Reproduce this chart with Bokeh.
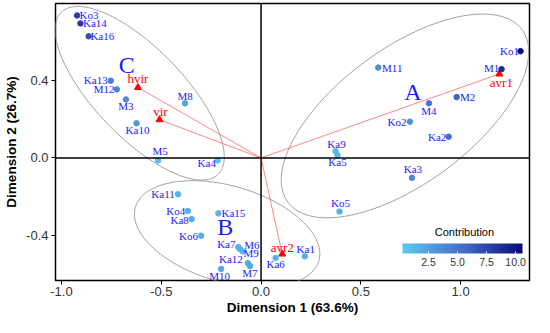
import numpy as np
from bokeh.plotting import figure
from bokeh.models import (Span, LinearColorMapper, ColorBar, FixedTicker, Label,
                          NumeralTickFormatter, Range1d, ColumnDataSource)
from bokeh.core.properties import value
from bokeh.embed import file_html
from bokeh.resources import INLINE

# ---------------- data ----------------
names = ["Ko1", "M1", "M11", "M2", "M4", "Ko2", "Ka2", "Ka9", "Ka5", "Ka3", "Ko5",
         "Ko3", "Ka14", "Ka16", "Ka13", "M12", "M3", "M8", "Ka10", "M5", "Ka4",
         "Ka11", "Ko4", "Ka8", "Ka15", "Ko6", "Ka7", "M6", "M9", "Ka12", "M7", "M10",
         "Ka6", "Ka1"]
dim1 = [1.300, 1.205, 0.587, 0.980, 0.841, 0.746, 0.940, 0.373, 0.383, 0.756, 0.393,
        -0.922, -0.905, -0.864, -0.753, -0.723, -0.677, -0.381, -0.624, -0.516, -0.217,
        -0.416, -0.367, -0.348, -0.214, -0.300, -0.114, -0.106, -0.092, -0.066, -0.056, -0.200,
        0.073, 0.219]
dim2 = [0.553, 0.460, 0.468, 0.315, 0.283, 0.188, 0.110, 0.035, 0.015, -0.103, -0.278,
        0.738, 0.697, 0.630, 0.400, 0.355, 0.303, 0.283, 0.180, -0.013, -0.013,
        -0.188, -0.275, -0.317, -0.287, -0.403, -0.462, -0.472, -0.484, -0.545, -0.560, -0.575,
        -0.518, -0.510]
contrib = [10.5, 9.0, 3.5, 6.0, 5.0, 3.5, 5.5, 1.2, 1.2, 4.0, 1.5,
           8.0, 8.0, 7.0, 4.5, 4.3, 3.8, 2.2, 3.0, 1.0, 0.4,
           1.5, 1.6, 1.7, 1.3, 1.8, 1.5, 1.5, 1.6, 1.9, 2.0, 2.1,
           1.4, 1.6]

var_names = ["hvir", "vir", "avr1", "avr2"]
var_dim1 = [-0.617, -0.509, 1.194, 0.106]
var_dim2 = [0.365, 0.198, 0.435, -0.498]

group_names = ["A", "B", "C"]
group_dim1 = [0.761, -0.180, -0.673]
group_dim2 = [0.343, -0.360, 0.480]

# confidence ellipses: centre, semi-axes, angle (deg)
ell_cx = [0.721, -0.170, -0.608]
ell_cy = [0.2175, -0.394, 0.335]
ell_a = [0.7375, 0.480, 0.575]
ell_b = [0.345, 0.248, 0.226]
ell_angle = [37.8, -17.2, -47.35]

x_ticks = [-1.0, -0.5, 0.0, 0.5, 1.0]
y_ticks = [-0.4, 0.0, 0.4]
cbar_ticks = [2.5, 5.0, 7.5, 10.0]
contrib_low, contrib_high = 0.25, 10.6

# ---------------- label placement (screen px offsets, +dy = down) ----------------
lab_dx = [-11, -10, 14, 11, 0, -13, -11.5, 1, 0, 1, 1,
          12, 14.5, 13.7, -15, -12.7, 0, 0, 1, 2, -11,
          -15, -12, -12, 15, -12.7, -12, 12, 8.5, -17, 0, -1.5,
          0, 1]
lab_dy = [-0.6, -0.7, 0, 0, 7.5, 0, 0, -7, 7.3, -9, -8.7,
          0, 0, 0, -1, 0, 7, -7, 6.5, -9, 2.5,
          0, 0, 1, 0, 0, -3, -4, 1.3, -3.7, 7.3, 7,
          6.5, -7.7]
var_dx = [0, 1, 2, 0]
var_dy = [-8.5, -8.3, 9, -7]

# ---------------- colours ----------------
anch = np.array([[91, 200, 240], [70, 110, 200], [10, 10, 125]], dtype=float)
tt = np.linspace(0, 1, 256)
palette = []
for t in tt:
    r = np.interp(t, [0, 0.5, 1], anch[:, 0])
    g = np.interp(t, [0, 0.5, 1], anch[:, 1])
    b = np.interp(t, [0, 0.5, 1], anch[:, 2])
    palette.append("#%02x%02x%02x" % (int(round(r)), int(round(g)), int(round(b))))
mapper = LinearColorMapper(palette=palette, low=contrib_low, high=contrib_high)

# ---------------- figure ----------------
p = figure(width=534, height=317, output_backend="svg", toolbar_location=None,
           x_range=Range1d(-1.03, 1.345), y_range=Range1d(-0.635, 0.8),
           min_border_left=55, min_border_right=5, min_border_top=3, min_border_bottom=36)
p.xgrid.visible = False
p.ygrid.visible = False
p.outline_line_color = "black"
p.outline_line_width = 1.5
p.background_fill_color = "white"

for ax in (p.xaxis[0], p.yaxis[0]):
    ax.axis_line_color = None
    ax.major_tick_out = 4
    ax.major_tick_in = 0
    ax.minor_tick_line_color = None
    ax.major_tick_line_color = "black"
    ax.major_label_text_font = "Liberation Sans"
    ax.major_label_text_font_size = "13px"
    ax.major_label_text_color = "#333333"
    ax.major_label_standoff = 2
    ax.axis_label_text_font = "Liberation Sans"
    ax.axis_label_text_font_size = "13.5px"
    ax.axis_label_text_font_style = "bold"
    ax.axis_label_text_color = "black"
    ax.axis_label_standoff = 1
    ax.formatter = NumeralTickFormatter(format="0.0")
p.yaxis[0].axis_label_standoff = 4
p.yaxis[0].major_label_standoff = 3
p.xaxis.ticker = FixedTicker(ticks=x_ticks)
p.yaxis.ticker = FixedTicker(ticks=y_ticks)
p.xaxis.axis_label = "Dimension 1 (63.6%)"
p.yaxis.axis_label = "Dimension 2 (26.7%)"

# zero lines
p.add_layout(Span(location=0, dimension="height", line_color="black", line_width=1.5))
p.add_layout(Span(location=0, dimension="width", line_color="black", line_width=1.5))

# ellipses
xs, ys = [], []
th = np.linspace(0, 2 * np.pi, 200)
for cx, cy, a, b, ang in zip(ell_cx, ell_cy, ell_a, ell_b, ell_angle):
    phi = np.deg2rad(ang)
    xs.append(list(cx + a * np.cos(th) * np.cos(phi) - b * np.sin(th) * np.sin(phi)))
    ys.append(list(cy + a * np.cos(th) * np.sin(phi) + b * np.sin(th) * np.cos(phi)))
p.multi_line(xs, ys, line_color="#a0a0a0", line_width=1)

# variable arrows
p.segment(x0=[0] * len(var_dim1), y0=[0] * len(var_dim2), x1=var_dim1, y1=var_dim2,
          line_color="#ff7070", line_width=1, line_alpha=0.85)
p.scatter(var_dim1, var_dim2, marker="triangle", size=7, fill_color="red", line_color="red")
p.text(var_dim1, var_dim2, text=var_names, x_offset=var_dx, y_offset=var_dy,
       text_align="center", text_baseline="middle", text_color="red",
       text_font=value("Liberation Serif"), text_font_size="13px")

# points
src = ColumnDataSource(dict(x=dim1, y=dim2, c=contrib, n=names, dx=lab_dx, dy=lab_dy))
p.scatter("x", "y", source=src, size=5.5,
          fill_color={"field": "c", "transform": mapper},
          line_color={"field": "c", "transform": mapper})
p.text("x", "y", text="n", source=src, x_offset="dx", y_offset="dy",
       text_align="center", text_baseline="middle", text_color="#1a1aff",
       text_font=value("Liberation Serif"), text_font_size="11px")

# group labels
p.text(group_dim1, group_dim2, text=group_names, text_align="center", text_baseline="middle",
       text_color="#1a1aff", text_font=value("Liberation Serif"), text_font_size="24px")

# colour bar
cb = ColorBar(color_mapper=mapper, orientation="horizontal", width=120, height=10,
              location=(343, 8),
              ticker=FixedTicker(ticks=cbar_ticks), formatter=NumeralTickFormatter(format="0.0"),
              major_label_text_font="Liberation Sans", major_label_text_font_size="10.5px",
              major_label_text_color="#333333", label_standoff=4,
              major_tick_line_color="white", major_tick_in=2, major_tick_out=0,
              minor_tick_line_color=None, bar_line_color=None,
              background_fill_alpha=0, border_line_color=None, padding=4, margin=0)
p.add_layout(cb, "center")
p.add_layout(Label(x=1.019, y=-0.383, text="Contribution", text_align="center",
                   text_baseline="middle", text_font="Liberation Sans",
                   text_font_size="11px", text_color="black"))

open("out.html", "w").write(file_html(p, INLINE))
